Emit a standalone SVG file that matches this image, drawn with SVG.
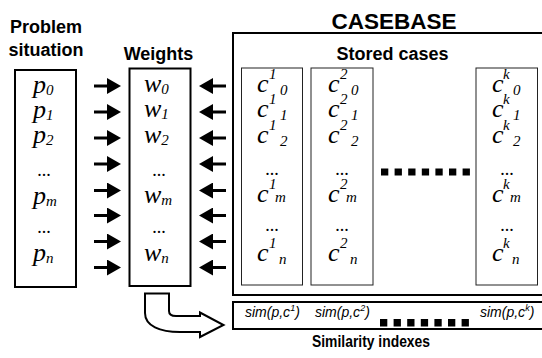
<svg xmlns="http://www.w3.org/2000/svg" width="542" height="358" viewBox="0 0 542 358">
<style>
.h{font-family:"Liberation Sans",Arial,sans-serif;font-weight:bold;fill:#000}
.v{font-family:"Liberation Serif","Times New Roman",serif;font-style:italic;font-size:26px;fill:#000}
.s{font-size:15px}
.d{font-family:"Liberation Serif","Times New Roman",serif;font-size:18px;fill:#000;text-anchor:middle}
.sim{font-family:"Liberation Sans",Arial,sans-serif;font-style:italic;font-size:14px;fill:#000}
.box{fill:#fff;stroke:#000;stroke-width:2}
.col{fill:#fff;stroke:#222;stroke-width:1}
.ar{stroke:#000;stroke-width:3;fill:none;marker-end:url(#ah)}
.sq{fill:#000}
</style>
<defs>
<marker id="ah" viewBox="0 0 14 16" markerWidth="14" markerHeight="16" refX="0" refY="8" markerUnits="userSpaceOnUse" orient="auto">
<path d="M0,0 L14,8 L0,16 Z" fill="#000"/>
</marker>
</defs>
<rect width="542" height="358" fill="#fff"/>

<g id="problem">
<text class="h" font-size="18" x="46" y="33" text-anchor="middle">Problem</text>
<text class="h" font-size="18" x="46" y="56" text-anchor="middle">situation</text>
<rect class="box" x="15" y="70" width="61" height="217"/>
<text class="v" x="33" y="93">p<tspan class="s" dy="2">0</tspan></text>
<text class="v" x="33" y="118">p<tspan class="s" dy="2">1</tspan></text>
<text class="v" x="33" y="143">p<tspan class="s" dy="2">2</tspan></text>
<text class="d" x="44" y="176">...</text>
<text class="v" x="33" y="204">p<tspan class="s" dy="2">m</tspan></text>
<text class="d" x="44" y="233">...</text>
<text class="v" x="33" y="261">p<tspan class="s" dy="2">n</tspan></text>
</g>

<g id="weights">
<text class="h" font-size="18" x="158.5" y="60" text-anchor="middle">Weights</text>
<rect class="box" x="129.5" y="68.5" width="61" height="217.5"/>
<text class="v" x="144" y="92">w<tspan class="s" dy="2">0</tspan></text>
<text class="v" x="144" y="117">w<tspan class="s" dy="2">1</tspan></text>
<text class="v" x="144" y="143">w<tspan class="s" dy="2">2</tspan></text>
<text class="d" x="159" y="176">...</text>
<text class="v" x="144" y="203">w<tspan class="s" dy="2">m</tspan></text>
<text class="d" x="159" y="233">...</text>
<text class="v" x="144" y="261">w<tspan class="s" dy="2">n</tspan></text>
</g>

<g id="casebase">
<text class="h" font-size="22.5" x="394" y="29" text-anchor="middle">CASEBASE</text>
<rect class="box" x="233" y="33" width="315" height="262" stroke-width="2.5"/>
<text class="h" font-size="18" x="392.5" y="60" text-anchor="middle">Stored cases</text>
</g>

<g id="case1">
<rect class="col" x="241.5" y="68" width="61" height="217"/>
<text class="v" x="257" y="92">c<tspan class="s" x="269" y="79">1</tspan><tspan class="s" x="280" y="95">0</tspan></text>
<text class="v" x="257" y="117">c<tspan class="s" x="269" y="104">1</tspan><tspan class="s" x="280" y="120">1</tspan></text>
<text class="v" x="257" y="143">c<tspan class="s" x="269" y="130">1</tspan><tspan class="s" x="280" y="146">2</tspan></text>
<text class="d" x="272" y="175">...</text>
<text class="v" x="257" y="202">c<tspan class="s" x="269" y="189">1</tspan><tspan class="s" x="275" y="202">m</tspan></text>
<text class="d" x="272" y="231">...</text>
<text class="v" x="257" y="261">c<tspan class="s" x="269" y="248">1</tspan><tspan class="s" x="279" y="264">n</tspan></text>
</g>

<g id="case2">
<rect class="col" x="311" y="68" width="62" height="217"/>
<text class="v" x="328" y="92">c<tspan class="s" x="340" y="79">2</tspan><tspan class="s" x="351" y="95">0</tspan></text>
<text class="v" x="328" y="117">c<tspan class="s" x="340" y="104">2</tspan><tspan class="s" x="351" y="120">1</tspan></text>
<text class="v" x="328" y="143">c<tspan class="s" x="340" y="130">2</tspan><tspan class="s" x="351" y="146">2</tspan></text>
<text class="d" x="342" y="175">...</text>
<text class="v" x="328" y="202">c<tspan class="s" x="340" y="189">2</tspan><tspan class="s" x="346" y="202">m</tspan></text>
<text class="d" x="342" y="231">...</text>
<text class="v" x="328" y="261">c<tspan class="s" x="340" y="248">2</tspan><tspan class="s" x="350" y="264">n</tspan></text>
</g>

<g id="casek">
<rect class="col" x="476" y="68" width="61.5" height="217"/>
<text class="v" x="492" y="92">c<tspan class="s" x="503" y="79">k</tspan><tspan class="s" x="513" y="95">0</tspan></text>
<text class="v" x="492" y="117">c<tspan class="s" x="503" y="104">k</tspan><tspan class="s" x="513" y="120">1</tspan></text>
<text class="v" x="492" y="143">c<tspan class="s" x="503" y="130">k</tspan><tspan class="s" x="513" y="146">2</tspan></text>
<text class="d" x="507" y="175">...</text>
<text class="v" x="492" y="202">c<tspan class="s" x="503" y="189">k</tspan><tspan class="s" x="510" y="202">m</tspan></text>
<text class="d" x="507" y="231">...</text>
<text class="v" x="492" y="261">c<tspan class="s" x="503" y="248">k</tspan><tspan class="s" x="512" y="264">n</tspan></text>
</g>

<g id="case-gap">
<rect class="sq" x="381" y="168.5" width="7.3" height="7"/>
<rect class="sq" x="394.6" y="168.5" width="7.3" height="7"/>
<rect class="sq" x="408.2" y="168.5" width="7.3" height="7"/>
<rect class="sq" x="421.8" y="168.5" width="7.3" height="7"/>
<rect class="sq" x="435.4" y="168.5" width="7.3" height="7"/>
<rect class="sq" x="449" y="168.5" width="7.3" height="7"/>
<rect class="sq" x="462.6" y="168.5" width="7.3" height="7"/>
</g>

<g id="similarity">
<rect class="box" x="233" y="302" width="315" height="27"/>
<text class="sim" x="245" y="316.5">sim(p,c<tspan font-size="9" dy="-6">1</tspan><tspan dy="6">)</tspan></text>
<text class="sim" x="315" y="316.5">sim(p,c<tspan font-size="9" dy="-6">2</tspan><tspan dy="6">)</tspan></text>
<text class="sim" x="480" y="316.5">sim(p,c<tspan font-size="9" dy="-6">k</tspan><tspan dy="6">)</tspan></text>
<rect class="sq" x="380" y="319" width="7.3" height="7.5"/>
<rect class="sq" x="393.6" y="319" width="7.3" height="7.5"/>
<rect class="sq" x="407.2" y="319" width="7.3" height="7.5"/>
<rect class="sq" x="420.8" y="319" width="7.3" height="7.5"/>
<rect class="sq" x="434.4" y="319" width="7.3" height="7.5"/>
<rect class="sq" x="448" y="319" width="7.3" height="7.5"/>
<rect class="sq" x="461.6" y="319" width="7.3" height="7.5"/>
<text class="h" font-size="16" x="371" y="347" text-anchor="middle" textLength="118" lengthAdjust="spacingAndGlyphs">Similarity indexes</text>
</g>

<g id="connectors">
<line class="ar" x1="94" y1="86" x2="107" y2="86"/>
<line class="ar" x1="94" y1="112" x2="107" y2="112"/>
<line class="ar" x1="94" y1="138" x2="107" y2="138"/>
<line class="ar" x1="94" y1="164" x2="107" y2="164"/>
<line class="ar" x1="94" y1="190.5" x2="107" y2="190.5"/>
<line class="ar" x1="94" y1="215.5" x2="107" y2="215.5"/>
<line class="ar" x1="94" y1="241.5" x2="107" y2="241.5"/>
<line class="ar" x1="94" y1="267.5" x2="107" y2="267.5"/>
<line class="ar" x1="226" y1="86" x2="213" y2="86"/>
<line class="ar" x1="226" y1="112" x2="213" y2="112"/>
<line class="ar" x1="226" y1="138" x2="213" y2="138"/>
<line class="ar" x1="226" y1="164" x2="213" y2="164"/>
<line class="ar" x1="226" y1="190.5" x2="213" y2="190.5"/>
<line class="ar" x1="226" y1="215.5" x2="213" y2="215.5"/>
<line class="ar" x1="226" y1="241.5" x2="213" y2="241.5"/>
<line class="ar" x1="226" y1="267.5" x2="213" y2="267.5"/>
<path d="M145,293.5 H169 V311 Q169,316 176,316 H200 V312.5 L223.5,325 L200,337 V332 H180 C160,332 145,326 145,313 Z" fill="#fff" stroke="#000" stroke-width="2"/>
</g>
</svg>
